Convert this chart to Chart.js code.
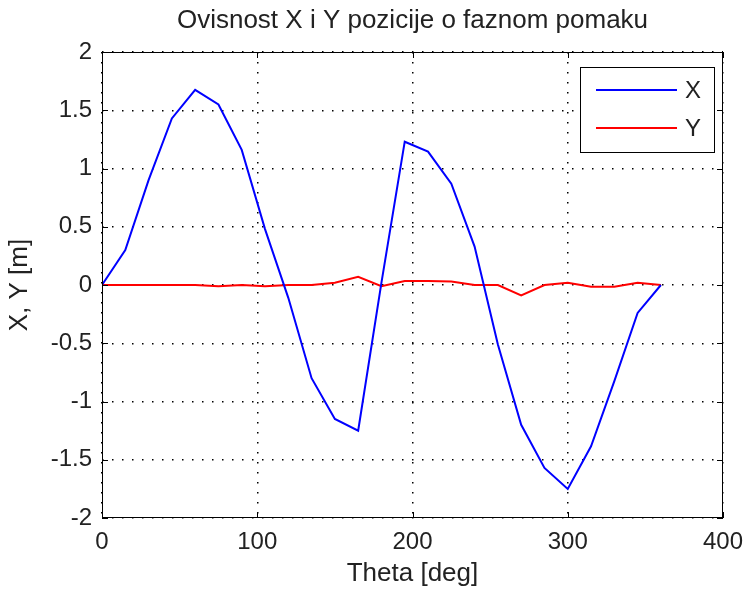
<!DOCTYPE html>
<html>
<head>
<meta charset="utf-8">
<script src="https://cdn.jsdelivr.net/npm/chart.js@4/dist/chart.umd.min.js"></script>
<style>
  html, body { margin: 0; padding: 0; background: #ffffff; }
  #wrap { width: 747px; height: 591px; }
</style>
</head>
<body>
<div id="wrap"><canvas id="c" width="747" height="591"></canvas></div>
<script>
const theta = [0, 15, 30, 45, 60, 75, 90, 105, 120, 135, 150, 165, 180, 195, 210, 225, 240, 255, 270, 285, 300, 315, 330, 345, 360];
const xPos = [0, 0.30, 0.90, 1.43, 1.675, 1.55, 1.16, 0.48, -0.11, -0.80, -1.15, -1.25, 0.02, 1.23, 1.145, 0.87, 0.33, -0.51, -1.20, -1.57, -1.75, -1.385, -0.825, -0.24, 0];
const yPos = [0, 0, 0, 0, 0, -0.01, 0, -0.01, 0, 0, 0.02, 0.07, -0.01, 0.035, 0.035, 0.03, 0, 0, -0.09, 0, 0.02, -0.015, -0.015, 0.02, 0];
const seriesNames = ['X', 'Y'];
const seriesColors = ['#0000ff', '#ff0000'];
const titleText = 'Ovisnost X i Y pozicije o faznom pomaku';
const xTitle = 'Theta [deg]';
const yTitle = 'X, Y [m]';
const xTicks = [0, 100, 200, 300, 400];
const yTicks = [-2, -1.5, -1, -0.5, 0, 0.5, 1, 1.5, 2];

const FONT = "'Liberation Sans', Arial, sans-serif";

const framePlugin = {
  id: 'frame',
  afterDraw(chart) {
    const ctx = chart.ctx;
    const a = chart.chartArea;
    const xs = chart.scales.x, ys = chart.scales.y;
    ctx.save();
    // title centred over the plot area
    ctx.font = '26px ' + FONT;
    ctx.fillStyle = '#222';
    ctx.textAlign = 'center';
    ctx.textBaseline = 'middle';
    ctx.fillText(titleText, (a.left + a.right) / 2, 21);
    // axes box
    ctx.strokeStyle = '#000';
    ctx.lineWidth = 1;
    ctx.setLineDash([]);
    ctx.strokeRect(a.left + 0.5, a.top + 0.5, a.right - a.left - 1, a.bottom - a.top - 1);
    const L = 6;
    ctx.beginPath();
    xTicks.forEach(v => {
      const px = Math.round(xs.getPixelForValue(v)) + 0.5;
      ctx.moveTo(px, a.bottom); ctx.lineTo(px, a.bottom - L);
      ctx.moveTo(px, a.top); ctx.lineTo(px, a.top + L);
    });
    yTicks.forEach(v => {
      const py = Math.round(ys.getPixelForValue(v)) + 0.5;
      ctx.moveTo(a.left, py); ctx.lineTo(a.left + L, py);
      ctx.moveTo(a.right, py); ctx.lineTo(a.right - L, py);
    });
    ctx.stroke();
    // legend box
    const bx = 580, by = 67, bw = 134, bh = 85;
    ctx.fillStyle = '#fff';
    ctx.fillRect(bx, by, bw, bh);
    ctx.strokeRect(bx + 0.5, by + 0.5, bw, bh);
    const rows = [90, 128];
    ctx.font = '24px ' + FONT;
    ctx.textBaseline = 'middle';
    ctx.textAlign = 'center';
    chart.data.datasets.forEach((ds, i) => {
      ctx.strokeStyle = ds.borderColor;
      ctx.lineWidth = 2;
      ctx.beginPath();
      ctx.moveTo(596, rows[i]); ctx.lineTo(677, rows[i]);
      ctx.stroke();
      ctx.fillStyle = '#222';
      ctx.fillText(ds.label, 693, rows[i] + 1);
    });
    ctx.restore();
  }
};

new Chart(document.getElementById('c'), {
  type: 'line',
  data: {
    datasets: seriesNames.map((n, i) => ({
      label: n,
      data: theta.map((t, k) => ({ x: t, y: (i === 0 ? xPos : yPos)[k] })),
      borderColor: seriesColors[i],
      backgroundColor: seriesColors[i],
      borderWidth: 2,
      pointRadius: 0,
      tension: 0,
      fill: false
    }))
  },
  options: {
    responsive: false,
    animation: false,
    devicePixelRatio: 1,
    layout: { padding: { left: 0, right: 24, top: 52, bottom: 0 } },
    plugins: {
      legend: { display: false },
      tooltip: { enabled: false },
      title: { display: false }
    },
    scales: {
      x: {
        type: 'linear',
        min: 0, max: 400,
        afterBuildTicks(s) { s.ticks = xTicks.map(v => ({ value: v })); },
        afterFit(s) { s.height = 73; s.paddingRight = 0; s.paddingLeft = 0; },
        grid: { color: '#000', lineWidth: 1.5, drawTicks: false, borderDash: [1.5, 8.5] },
        border: { display: false, dash: [1.5, 8.5] },
        ticks: { color: '#222', padding: 10, maxRotation: 0, font: { family: FONT, size: 24 }, callback: v => String(v) },
        title: { display: true, text: xTitle, color: '#222', padding: { top: 0, bottom: 2 }, font: { family: FONT, size: 26 } }
      },
      y: {
        type: 'linear',
        min: -2, max: 2,
        afterBuildTicks(s) { s.ticks = yTicks.map(v => ({ value: v })); },
        afterFit(s) { s.width = 102; s.paddingTop = 0; s.paddingBottom = 0; },
        grid: { color: '#000', lineWidth: 1.5, drawTicks: false, borderDash: [1.5, 8.5] },
        border: { display: false, dash: [1.5, 8.5] },
        ticks: { color: '#222', padding: 10, font: { family: FONT, size: 24 }, callback: v => String(v) },
        title: { display: true, text: yTitle, color: '#222', padding: { top: 4, bottom: 0 }, font: { family: FONT, size: 26 } }
      }
    }
  },
  plugins: [framePlugin]
});
</script>
</body>
</html>
